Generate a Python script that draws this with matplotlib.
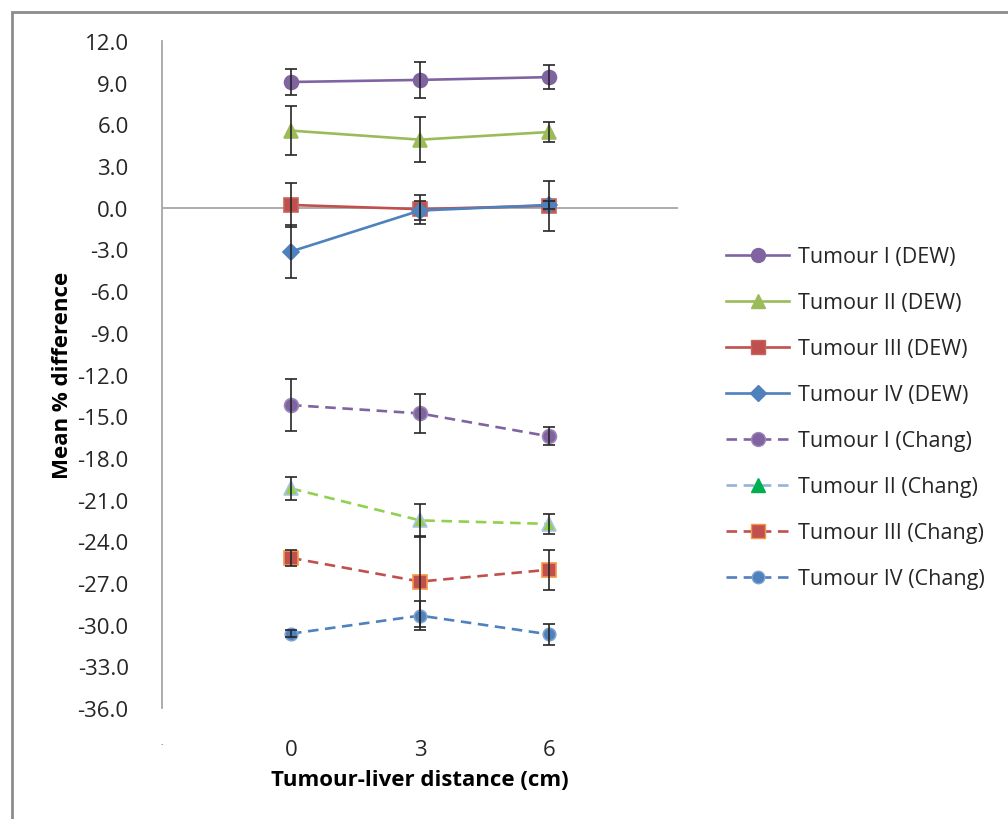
import numpy as np
import matplotlib.pyplot as plt
from matplotlib.patches import Rectangle
from matplotlib.lines import Line2D

plt.rcParams['font.family'] = ['Open Sans', 'DejaVu Sans']

# tumour-liver distance (cm)
dist = [0, 3, 6]

# mean % difference and error bars
dew_1 = [9.05, 9.2, 9.4]
dew_1_err = [0.95, 1.3, 0.85]
dew_2 = [5.55, 4.9, 5.45]
dew_2_err = [1.75, 1.6, 0.7]
dew_3 = [0.2, -0.1, 0.15]
dew_3_err = [1.6, 1.05, 1.8]
dew_4 = [-3.15, -0.2, 0.2]
dew_4_err = [1.9, 0.7, 0.3]

chang_1 = [-14.2, -14.8, -16.45]
chang_1_err = [1.85, 1.4, 0.65]
chang_2 = [-20.2, -22.5, -22.75]
chang_2_err = [0.8, 1.2, 0.7]
chang_3 = [-25.2, -26.9, -26.05]
chang_3_err = [0.6, 3.3, 1.45]
chang_4 = [-30.65, -29.35, -30.7]
chang_4_err = [0.25, 1.05, 0.75]

labels = ["Tumour I (DEW)", "Tumour II (DEW)", "Tumour III (DEW)", "Tumour IV (DEW)",
          "Tumour I (Chang)", "Tumour II (Chang)", "Tumour III (Chang)", "Tumour IV (Chang)"]

purple = "#8064A2"
green = "#9BBB59"
red = "#C0504D"
blue = "#4F81BD"

fig = plt.figure(figsize=(10.08, 8.2), dpi=100)
ax = fig.add_axes([162 / 1008, 111 / 820, 516 / 1008, 667 / 820])

# (values, errors, line colour, marker, marker face, marker edge, size, style)
series = [
    (dew_1, dew_1_err, purple, "o", purple, purple, 10, "-"),
    (dew_2, dew_2_err, green, "^", green, green, 10, "-"),
    (dew_3, dew_3_err, red, "s", red, "#C86460", 10, "-"),
    (dew_4, dew_4_err, blue, "D", blue, blue, 8, "-"),
    (chang_1, chang_1_err, purple, "o", purple, "#9C88B8", 10, (0, (4, 2.5))),
    (chang_2, chang_2_err, "#92D050", "^", "#92D050", "#A9C4E4", 10, (0, (4, 2.5))),
    (chang_3, chang_3_err, red, "s", red, "#F79646", 10, (0, (4, 2.5))),
    (chang_4, chang_4_err, blue, "o", blue, "#7FA2D0", 9, (0, (4, 2.5))),
]

for vals, err, col, mk, mfc, mec, ms, ls in series:
    ax.plot(dist, vals, color=col, ls=ls, lw=1.9, marker=mk, ms=ms,
            mfc=mfc, mec=mec, mew=1.2, zorder=3)
    ax.errorbar(dist, vals, yerr=err, fmt="none", ecolor="#262626",
                elinewidth=1.2, capsize=4, capthick=1.2, zorder=4)

ax.axhline(0, color="#A6A6A6", lw=1.3, zorder=1)
ax.set_xlim(-3, 9)
ax.set_ylim(-36, 12)
ax.set_yticks(np.arange(-36, 13, 3))
ax.set_yticklabels([f"{v:.1f}" for v in np.arange(-36, 13, 3)])
ax.set_xticks([-3, 0, 3, 6])
ax.set_xticklabels([".", "0", "3", "6"])
ax.tick_params(axis="y", length=0, pad=24, labelsize=16, labelcolor="#262626")
ax.tick_params(axis="x", length=0, pad=22, labelsize=16, labelcolor="#262626")
ax.xaxis.get_ticklabels()[0].set_fontsize(6)
for s in ["top", "right", "bottom"]:
    ax.spines[s].set_visible(False)
ax.spines["left"].set_color("#A6A6A6")
ax.spines["left"].set_linewidth(1.3)

fig.text(62 / 1008, 1 - 375 / 820, "Mean % difference", rotation=90,
         ha="center", va="center", fontsize=16, fontweight="bold")
fig.text(420 / 1008, 1 - 781 / 820, "Tumour-liver distance (cm)",
         ha="center", va="center", fontsize=16, fontweight="bold")

# legend drawn as in the original (Tumour II Chang shows a different style there)
handles = [
    Line2D([], [], color=purple, lw=1.9, marker="o", ms=10, mfc=purple, mec=purple),
    Line2D([], [], color=green, lw=1.9, marker="^", ms=10, mfc=green, mec=green),
    Line2D([], [], color=red, lw=1.9, marker="s", ms=10, mfc=red, mec="#C86460"),
    Line2D([], [], color=blue, lw=1.9, marker="D", ms=8, mfc=blue, mec=blue),
    Line2D([], [], color=purple, lw=1.9, ls=(0, (4, 2.5)), marker="o", ms=10, mfc=purple, mec="#9C88B8"),
    Line2D([], [], color="#95B3D7", lw=1.9, ls=(0, (4, 2.5)), marker="^", ms=10, mfc="#00B050", mec="#00B050"),
    Line2D([], [], color=red, lw=1.9, ls=(0, (4, 2.5)), marker="s", ms=10, mfc=red, mec="#F79646"),
    Line2D([], [], color=blue, lw=1.9, ls=(0, (4, 2.5)), marker="o", ms=9, mfc=blue, mec="#7FA2D0"),
]
fig.legend(handles, labels, loc="upper left", bbox_to_anchor=(707 / 1008, 1 - 228 / 820),
           frameon=False, fontsize=15.5, handlelength=2.9, handletextpad=0.45,
           labelspacing=1.16, labelcolor="#262626")

fig.patches.append(Rectangle((12 / 1008, -0.1), 1.2, 1.1 - 13 / 820, transform=fig.transFigure,
                             fill=False, edgecolor="#8C8C8C", lw=2))

fig.savefig("out.png", dpi=100)
